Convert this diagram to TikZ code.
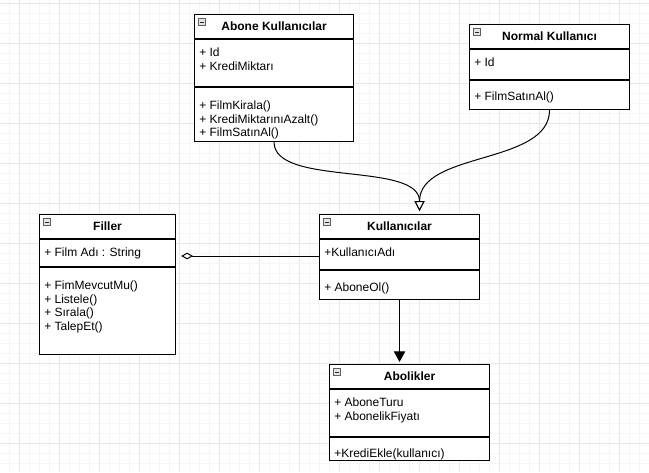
\documentclass[tikz,border=0pt]{standalone}
\usepackage{fontspec}
\setmainfont{Liberation Sans}
\usetikzlibrary{arrows.meta}
\usetikzlibrary{calc}
\tikzset{class box/.style 2 args={draw, fill=white, line width=0.8pt, anchor=north west, inner sep=0, minimum width=#1*0.75pt, minimum height=#2*0.75pt}}
\tikzset{class title/.style={font=\fontsize{9}{11}\selectfont\bfseries, inner sep=0}}
\tikzset{member list/.style={font=\fontsize{9}{10.2}\selectfont, align=left, anchor=north west, inner sep=0}}
\tikzset{fold icon/.style={draw=gray!75!black, fill=gray!20, line width=0.4pt, minimum size=5.5pt, inner sep=0,
    path picture={\draw[line width=0.6pt, black!85] ([xshift=1.2pt]path picture bounding box.west) -- ([xshift=-1.2pt]path picture bounding box.east);}}}
\tikzset{minor grid/.style={gray!7, line width=0.75pt}, major grid/.style={gray!19, line width=0.75pt}}
\def\classline#1#2{\draw[line width=0.8pt] ($(#1.north west)+(0,#2)$) -- ($(#1.north east)+(0,#2)$);}

\begin{document}
\begin{tikzpicture}[x=0.75pt, y=-0.75pt]

  \useasboundingbox (0,0) rectangle (649,472);
  \fill[white] (0,0) rectangle (649,472);

  % background grid
  \foreach \gx in {-0.5,9.5,...,649} \draw[minor grid] (\gx,0) -- (\gx,472);
  \foreach \gy in {3,13,...,472}     \draw[minor grid] (0,\gy) -- (649,\gy);
  \foreach \gx in {19.5,59.5,...,649} \draw[major grid] (\gx,0) -- (\gx,472);
  \foreach \gy in {3,43,...,472}      \draw[major grid] (0,\gy) -- (649,\gy);

  % Abone Kullanicilar
  \node[class box={159}{127}] (abone) at (194,14) {};
  \classline{abone}{25} \classline{abone}{73}
  \node[fold icon] (abone icon) at ($(abone.north west)+(8,8)$) {};
  \node[class title] (abone title) at ($(abone.north)+(0,12.5)$) {Abone Kullanıcılar};
  \node[member list] (abone attrs) at ($(abone.north west)+(5,34)$) {+ Id\\+ KrediMiktarı};
  \node[member list] (abone ops) at ($(abone.north west)+(5,86.5)$) {+ FilmKirala()\\+ KrediMiktarınıAzalt()\\+ FilmSatınAl()};

  % Normal Kullanici
  \node[class box={160}{85}] (normal) at (469,24) {};
  \classline{normal}{25} \classline{normal}{56}
  \node[fold icon] (normal icon) at ($(normal.north west)+(8,8)$) {};
  \node[class title] (normal title) at ($(normal.north)+(0,12.5)$) {Normal Kullanıcı};
  \node[member list] (normal attrs) at ($(normal.north west)+(5,34)$) {+ Id};
  \node[member list] (normal ops) at ($(normal.north west)+(5,68)$) {+ FilmSatınAl()};

  % Filler
  \node[class box={136}{140}] (filler) at (39,214) {};
  \classline{filler}{25} \classline{filler}{53}
  \node[fold icon] (filler icon) at ($(filler.north west)+(8,8)$) {};
  \node[class title] (filler title) at ($(filler.north)+(0,12.5)$) {Filler};
  \node[member list] (filler attrs) at ($(filler.north west)+(5,34)$) {+ Film Adı : String};
  \node[member list] (filler ops) at ($(filler.north west)+(5,66.5)$) {+ FimMevcutMu()\\+ Listele()\\+ Sırala()\\+ TalepEt()};

  % Kullanicilar
  \node[class box={160}{85}] (kullanicilar) at (319,214) {};
  \classline{kullanicilar}{25} \classline{kullanicilar}{56}
  \node[fold icon] (kullanicilar icon) at ($(kullanicilar.north west)+(8,8)$) {};
  \node[class title] (kullanicilar title) at ($(kullanicilar.north)+(0,12.5)$) {Kullanıcılar};
  \node[member list] (kullanicilar attrs) at ($(kullanicilar.north west)+(5,34)$) {+KullanıcıAdı};
  \node[member list] (kullanicilar ops) at ($(kullanicilar.north west)+(5,68.5)$) {+ AboneOl()};

  % Abolikler
  \node[class box={160}{96}] (abolikler) at (329,364) {};
  \classline{abolikler}{25} \classline{abolikler}{73}
  \node[fold icon] (abolikler icon) at ($(abolikler.north west)+(8,8)$) {};
  \node[class title] (abolikler title) at ($(abolikler.north)+(0,12.5)$) {Abolikler};
  \node[member list] (abolikler attrs) at ($(abolikler.north west)+(5,34)$) {+ AboneTuru\\+ AbonelikFiyatı};
  \node[member list] (abolikler ops) at ($(abolikler.north west)+(5,84.5)$) {+KrediEkle(kullanıcı)};

  % connectors
  \coordinate (inherit tip) at ($(kullanicilar.north)+(20,-3)$);
  \draw[line width=0.75pt, -{Triangle[open, length=7.5pt, width=7.5pt, fill=white]}]
    (abone.south) .. controls +(0,45) and +(0,-50) .. (inherit tip);
  \draw[line width=0.75pt, -{Triangle[open, length=7.5pt, width=7.5pt, fill=white]}]
    (normal.south) .. controls +(0,55) and +(0,-60) .. (inherit tip);
  \draw[line width=0.75pt, -{Diamond[open, length=9pt, width=5pt, fill=white]}, shorten >=3.75pt]
    ($(kullanicilar.north west)+(0,42)$) -- ($(filler.north east)+(0,42)$);
  \draw[line width=0.75pt, -{Triangle[length=8pt, width=8.5pt]}, shorten >=1.5pt]
    (kullanicilar.south) -- (kullanicilar.south |- abolikler.north);

\end{tikzpicture}
\end{document}
